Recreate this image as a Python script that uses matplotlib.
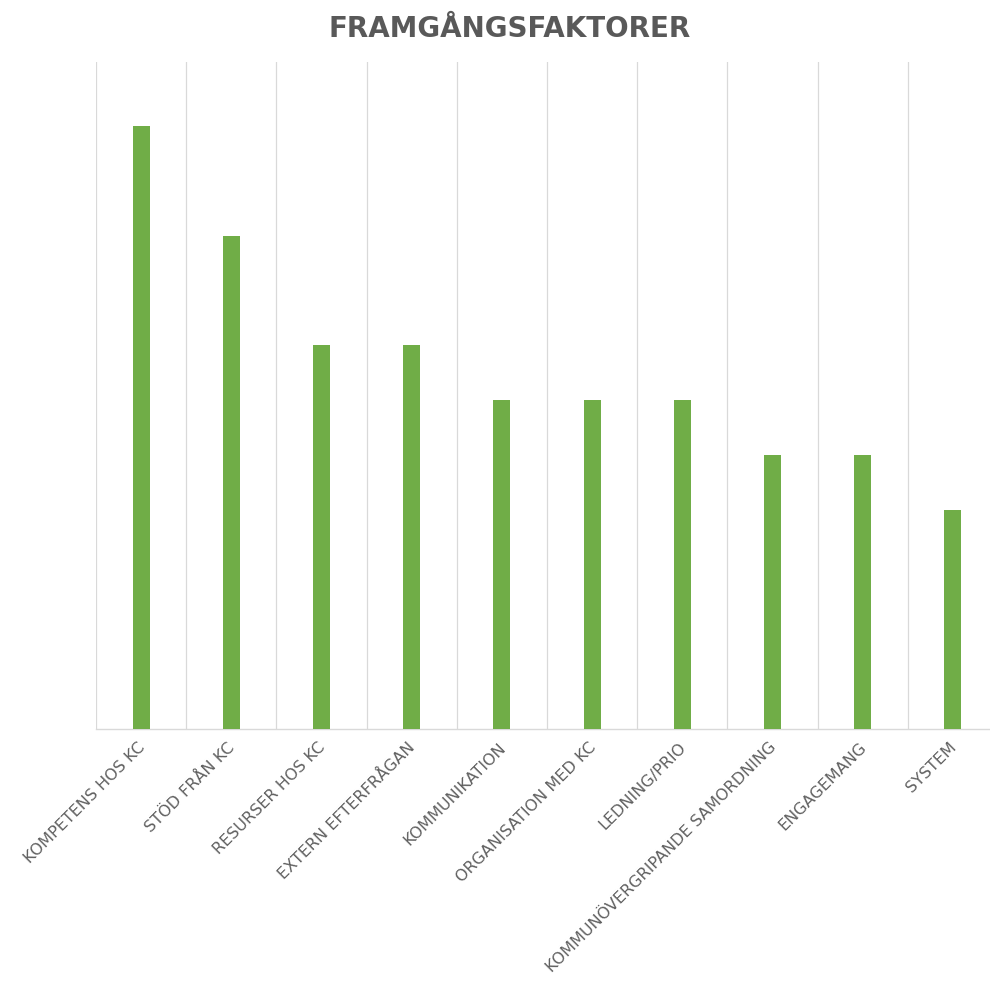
import matplotlib
matplotlib.use("Agg")
import matplotlib.pyplot as plt
import matplotlib.transforms as mtransforms
import numpy as np

categories = ["KOMPETENS HOS KC", "STÖD FRÅN KC", "RESURSER HOS KC", "EXTERN EFTERFRÅGAN",
              "KOMMUNIKATION", "ORGANISATION MED KC", "LEDNING/PRIO",
              "KOMMUNÖVERGRIPANDE SAMORDNING", "ENGAGEMANG", "SYSTEM"]
values = [11, 9, 7, 7, 6, 6, 6, 5, 5, 4]
title = "FRAMGÅNGSFAKTORER"

W, H = 990, 995
fig = plt.figure(figsize=(W / 100, H / 100), dpi=100)
left, right, bottom, top = 96, 998, 730, 63
ax = fig.add_axes([left / W, (H - bottom) / H, (right - left) / W, (bottom - top) / H])

x = np.arange(len(categories))
ax.bar(x, values, width=0.19, color="#70ad47", zorder=3)
ax.set_xlim(-0.5, len(categories) - 0.5)
ax.set_ylim(0, 12.17)

ax.set_xticks(x)
ax.set_xticklabels(categories, rotation=45, ha="right", va="top", rotation_mode="anchor",
                   fontsize=11.5, color="#606060", family="DejaVu Sans")
ax.tick_params(axis="x", length=0, pad=7)
offset = mtransforms.ScaledTranslation(-4 / 100, 0, fig.dpi_scale_trans)
for lbl in ax.get_xticklabels():
    lbl.set_transform(lbl.get_transform() + offset)
ax.set_xticks(np.arange(-0.5, len(categories)), minor=True)
ax.tick_params(axis="x", which="minor", length=0)
ax.grid(True, axis="x", which="minor", color="#d9d9d9", linewidth=0.9, zorder=0)
ax.set_yticks([])

for s in ["top", "right", "left"]:
    ax.spines[s].set_visible(False)
ax.spines["bottom"].set_color("#d9d9d9")
ax.spines["bottom"].set_linewidth(1.0)

fig.text(510 / W, 1 - 29 / H, title, ha="center", va="center", fontsize=20,
         fontweight="bold", color="#595959", family="DejaVu Sans")

fig.savefig("out.png", dpi=100)
